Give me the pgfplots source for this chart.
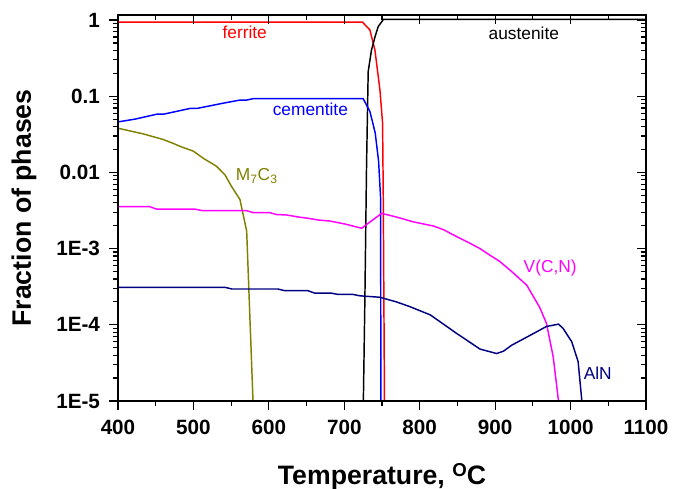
\documentclass[border=0pt]{standalone}
\usepackage{pgfplots}
\pgfplotsset{compat=1.18}
\usepackage{fontspec}
\setmainfont{Liberation Sans}
\usetikzlibrary{calc}

\definecolor{olivec}{HTML}{808000}
\definecolor{navyc}{HTML}{000080}
\definecolor{magc}{HTML}{FF00FF}

\begin{document}
\begin{tikzpicture}
\begin{axis}[
  width=396pt, height=289.5pt, scale only axis,
  at={(0,0)}, anchor=south west,
  ymode=log, xmin=400, xmax=1100, ymin=1e-5, ymax=1.163,
  xtick={400,500,600,700,800,900,1000,1100},
  minor x tick num=1,
  ytick={1e-5,1e-4,1e-3,1e-2,1e-1,1},
  minor ytick={2e-5,3e-5,4e-5,5e-5,6e-5,7e-5,8e-5,9e-5,
               2e-4,3e-4,4e-4,5e-4,6e-4,7e-4,8e-4,9e-4,
               2e-3,3e-3,4e-3,5e-3,6e-3,7e-3,8e-3,9e-3,
               2e-2,3e-2,4e-2,5e-2,6e-2,7e-2,8e-2,9e-2,
               2e-1,3e-1,4e-1,5e-1,6e-1,7e-1,8e-1,9e-1},
  major tick length=6.5pt, minor tick length=3.5pt,
  every tick/.style={line width=0.9pt, black},
  axis line style={line width=1.1pt},
  tick align=outside, xtick pos=left, ytick pos=left,
  xticklabels={400,500,600,700,800,900,1000,1100},
  yticklabels={1E-5,1E-4,1E-3,0.01,0.1,1},
  tick label style={font=\fontsize{15.5}{18}\selectfont\bfseries},
  xticklabel style={yshift=-4.5pt},
  yticklabel style={xshift=-3.5pt},
  xlabel={Temperature, \raisebox{0.55ex}{\fontsize{14}{16}\selectfont O}C},
  ylabel={Fraction of phases},
  xlabel style={font=\fontsize{20}{24}\selectfont\bfseries, at={([yshift=-62.25pt]axis description cs:0.5,0)}, anchor=base},
  ylabel style={font=\fontsize{20}{24}\selectfont\bfseries, at={([xshift=-65.25pt]axis description cs:0,0.5)}, anchor=base},
  every axis plot/.append style={line width=1.1pt},
]
% ferrite
\addplot[red] coordinates {
 (400,0.94) (724,0.94) (734,0.74) (740.7,0.40) (747.3,0.12) (750.8,0.044)
 (751.7,0.0044) (753.3,1e-5)};
% austenite
\addplot[black] coordinates {
 (725.3,1e-5) (727.3,2.1e-4) (729.5,0.0119) (731.7,0.21) (736,0.40)
 (740.7,0.60) (745,0.82) (752,1.02) (1100,1.02)};
% cementite
\addplot[blue] coordinates {
 (400,0.046) (422.5,0.050) (451.3,0.058) (460,0.058) (495.4,0.069) (504.3,0.069)
 (539.6,0.081) (561.7,0.089) (570.6,0.089) (579.5,0.093) (725,0.093) (734,0.063)
 (741,0.033) (745.5,0.014) (748.2,0.0045) (748.5,1e-5)};
% M7C3
\addplot[olivec] coordinates {
 (400,0.038) (433.6,0.032) (460,0.027) (473.3,0.024) (482.2,0.022) (499.9,0.019)
 (513.2,0.0153) (530.8,0.012) (541.8,0.0093) (550.7,0.0065) (561.7,0.0044)
 (570.6,0.0017) (579,1e-5)};
% V(C,N)
\addplot[magc] coordinates {
 (400,0.00355) (442,0.00355) (451,0.0033) (502,0.0033) (511,0.00316) (570,0.00316)
 (579,0.00297) (601,0.00297) (610,0.0028) (624,0.00276) (639,0.0026) (652,0.0025)
 (666,0.00237) (681,0.0023) (701,0.0021) (723,0.00185) (749.5,0.0029) (769,0.0026)
 (791,0.00225) (818,0.00198) (831,0.00178) (849,0.00144) (867,0.00117) (880,0.001)
 (893,0.00082) (906,0.00068) (924,0.00048) (942,0.00033) (959,0.00017)
 (968,0.000105) (977,3.8e-5) (984,1e-5)};
% AlN
\addplot[navyc] coordinates {
 (400,3.1e-4) (542,3.1e-4) (551,2.95e-4) (612,2.95e-4) (621,2.8e-4) (652,2.8e-4)
 (661,2.6e-4) (683,2.6e-4) (692,2.5e-4) (712,2.5e-4) (721,2.4e-4) (747,2.3e-4)
 (769,2.0e-4) (787,1.73e-4) (814,1.35e-4) (840,8.9e-5) (849,7.7e-5) (880,4.8e-5)
 (902,4.2e-5) (911,4.5e-5) (922,5.4e-5) (951,7.7e-5) (968,9.5e-5) (984,1.02e-4)
 (990,9e-5) (1001.5,6e-5) (1010,3.3e-5) (1015,1e-5)};
\node[red, font=\fontsize{13}{15}\selectfont] at (axis cs:568,0.70) {ferrite};
\node[black, font=\fontsize{13}{15}\selectfont] at (axis cs:938,0.67) {austenite};
\node[blue, font=\fontsize{13}{15}\selectfont] at (axis cs:655,0.068) {cementite};
\node[olivec, font=\fontsize{13}{15}\selectfont] at (axis cs:584,0.0089) {M\textsubscript{7}C\textsubscript{3}};
\node[magc, font=\fontsize{13}{15}\selectfont] at (axis cs:973,5.56e-4) {V(C,N)};
\node[navyc, font=\fontsize{13}{15}\selectfont] at (axis cs:1036,2.3e-5) {AlN};
\end{axis}
\begin{axis}[
  width=396pt, height=289.5pt, scale only axis,
  at={(0,0)}, anchor=south west,
  ymode=log, xmin=400, xmax=1100, ymin=1e-5, ymax=1.163,
  xtick={400,500,600,700,800,900,1000,1100},
  minor x tick num=1,
  ytick={1e-5,1e-4,1e-3,1e-2,1e-1,1},
  minor ytick={2e-5,3e-5,4e-5,5e-5,6e-5,7e-5,8e-5,9e-5,
               2e-4,3e-4,4e-4,5e-4,6e-4,7e-4,8e-4,9e-4,
               2e-3,3e-3,4e-3,5e-3,6e-3,7e-3,8e-3,9e-3,
               2e-2,3e-2,4e-2,5e-2,6e-2,7e-2,8e-2,9e-2,
               2e-1,3e-1,4e-1,5e-1,6e-1,7e-1,8e-1,9e-1},
  major tick length=6.5pt, minor tick length=3.5pt,
  every tick/.style={line width=0.9pt, black},
  axis line style={line width=1.1pt},
  tick align=inside, xtick pos=right, ytick pos=right,
  xticklabels={}, yticklabels={}]
\addplot[draw=none] coordinates {(400,1e-5)};
\end{axis}
\pgfresetboundingbox
\path ($(current axis.south west)+(-88.5pt,-66pt)$) rectangle ++(512.25pt,366.75pt);
\end{tikzpicture}
\end{document}
